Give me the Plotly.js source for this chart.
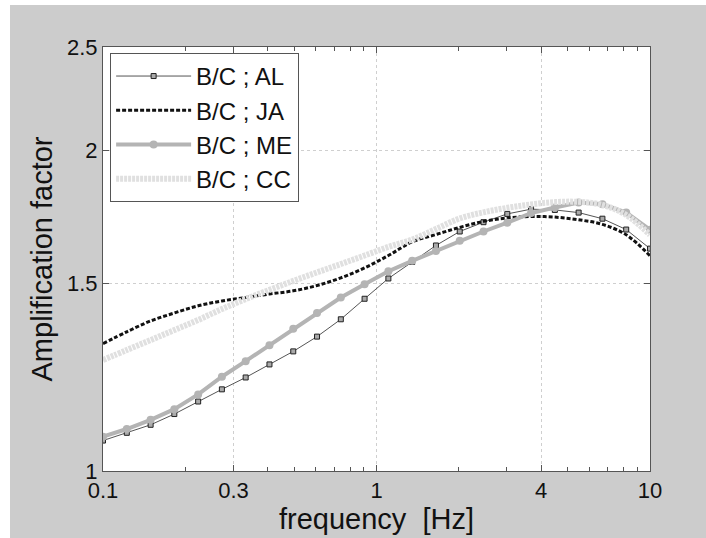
<!DOCTYPE html>
<html>
<head>
<meta charset="utf-8">
<script src="https://cdn.plot.ly/plotly-3.0.1.min.js"></script>
<style>
html,body{margin:0;padding:0;background:#ffffff;width:706px;height:538px;overflow:hidden;}
#chart{position:absolute;left:10px;top:5px;width:696px;height:533px;}
</style>
</head>
<body>
<div id="chart"></div>
<script>
// frequency [Hz]
const freq = [0.1, 0.1222, 0.1493, 0.1823, 0.2228, 0.2721, 0.3324, 0.4061, 0.4962, 0.6061,
  0.7405, 0.9046, 1.1052, 1.3501, 1.6494, 2.0150, 2.4617, 3.0074, 3.6740, 4.4884,
  5.4832, 6.6986, 8.1835, 10.0];
// amplification factors
const AL = [1.068, 1.086, 1.105, 1.131, 1.162, 1.193, 1.224, 1.259, 1.295, 1.337,
  1.388, 1.451, 1.516, 1.571, 1.628, 1.678, 1.712, 1.743, 1.761, 1.758,
  1.748, 1.725, 1.685, 1.617];
const JA = [1.317, 1.351, 1.383, 1.407, 1.429, 1.444, 1.455, 1.466, 1.476, 1.493,
  1.518, 1.551, 1.593, 1.641, 1.667, 1.693, 1.715, 1.728, 1.733, 1.731,
  1.721, 1.704, 1.666, 1.592];
const ME = [1.077, 1.095, 1.117, 1.143, 1.180, 1.226, 1.268, 1.312, 1.360, 1.407,
  1.455, 1.497, 1.540, 1.575, 1.609, 1.645, 1.678, 1.710, 1.746, 1.767,
  1.786, 1.780, 1.748, 1.684];
const CC = [1.271, 1.299, 1.327, 1.356, 1.386, 1.419, 1.450, 1.479, 1.508, 1.536,
  1.564, 1.593, 1.623, 1.649, 1.687, 1.726, 1.749, 1.766, 1.779, 1.788,
  1.789, 1.777, 1.739, 1.666];
const names = ['B/C ; AL', 'B/C ; JA', 'B/C ; ME', 'B/C ; CC'];
const xTicks = [0.1, 0.3, 1, 4, 10];
const xTickText = ['0.1', '0.3', '1', '4', '10'];
const xMinor = [0.2, 0.4, 0.5, 0.6, 0.7, 0.8, 0.9, 2, 3, 5, 6, 7, 8, 9];
const yTicks = [1, 1.5, 2, 2.5];
const yTickText = ['1', '1.5', '2', '2.5'];

const traces = [
  {x: freq, y: AL, name: names[0], mode: 'lines+markers',
   line: {color: '#555555', width: 1},
   marker: {symbol: 'square', size: 5, color: '#aaaaaa', line: {color: '#222222', width: 1}}},
  {x: freq, y: JA, name: names[1], mode: 'lines', line: {color: '#111111', width: 3, dash: '4px,2px', shape: 'spline'}},
  {x: freq, y: ME, name: names[2], mode: 'lines+markers',
   line: {color: '#b4b4b4', width: 4},
   marker: {symbol: 'circle', size: 8, color: '#b4b4b4'}},
  {x: freq, y: CC, name: names[3], mode: 'lines', line: {color: '#e0e0e0', width: 6, dash: '3px,1px', shape: 'spline'}}
];

const font = {family: 'Liberation Sans, Arial, sans-serif', color: '#111111'};
const layout = {
  width: 696, height: 533,
  paper_bgcolor: '#cccccc', plot_bgcolor: '#ffffff',
  margin: {l: 93, r: 56, t: 42, b: 67},
  showlegend: true,
  legend: {x: 0.013, y: 0.986, xanchor: 'left', yanchor: 'top', bgcolor: '#ffffff',
    bordercolor: '#555555', borderwidth: 1, font: Object.assign({size: 24}, font),
    itemwidth: 75, traceorder: 'normal'},
  xaxis: {type: 'log', range: [-1, 1], tickmode: 'array', tickvals: xTicks, ticktext: xTickText,
    ticks: 'inside', ticklen: 6, tickcolor: '#555555', showline: true, linecolor: '#555555', linewidth: 1,
    mirror: 'ticks', showgrid: true, gridcolor: '#cfcfcf', griddash: 'dot', gridwidth: 1, zeroline: false,
    tickfont: Object.assign({size: 22}, font), automargin: false,
    minor: {tickmode: 'array', tickvals: xMinor, ticks: 'inside', ticklen: 4, tickcolor: '#555555', showgrid: false},
    title: {text: 'frequency  [Hz]', font: Object.assign({size: 29}, font), standoff: 4}},
  yaxis: {type: 'log', range: [0, Math.log10(2.5)], tickmode: 'array', tickvals: yTicks, ticktext: yTickText,
    ticks: 'inside', ticklen: 6, tickcolor: '#555555', showline: true, linecolor: '#555555', linewidth: 1,
    mirror: 'ticks', showgrid: true, gridcolor: '#cfcfcf', griddash: 'dot', gridwidth: 1, zeroline: false,
    tickfont: Object.assign({size: 22}, font), automargin: false,
    title: {text: 'Amplification factor', font: Object.assign({size: 29}, font), standoff: 5}}
};
Plotly.newPlot('chart', traces, layout, {displayModeBar: false, staticPlot: true});
</script>
</body>
</html>
